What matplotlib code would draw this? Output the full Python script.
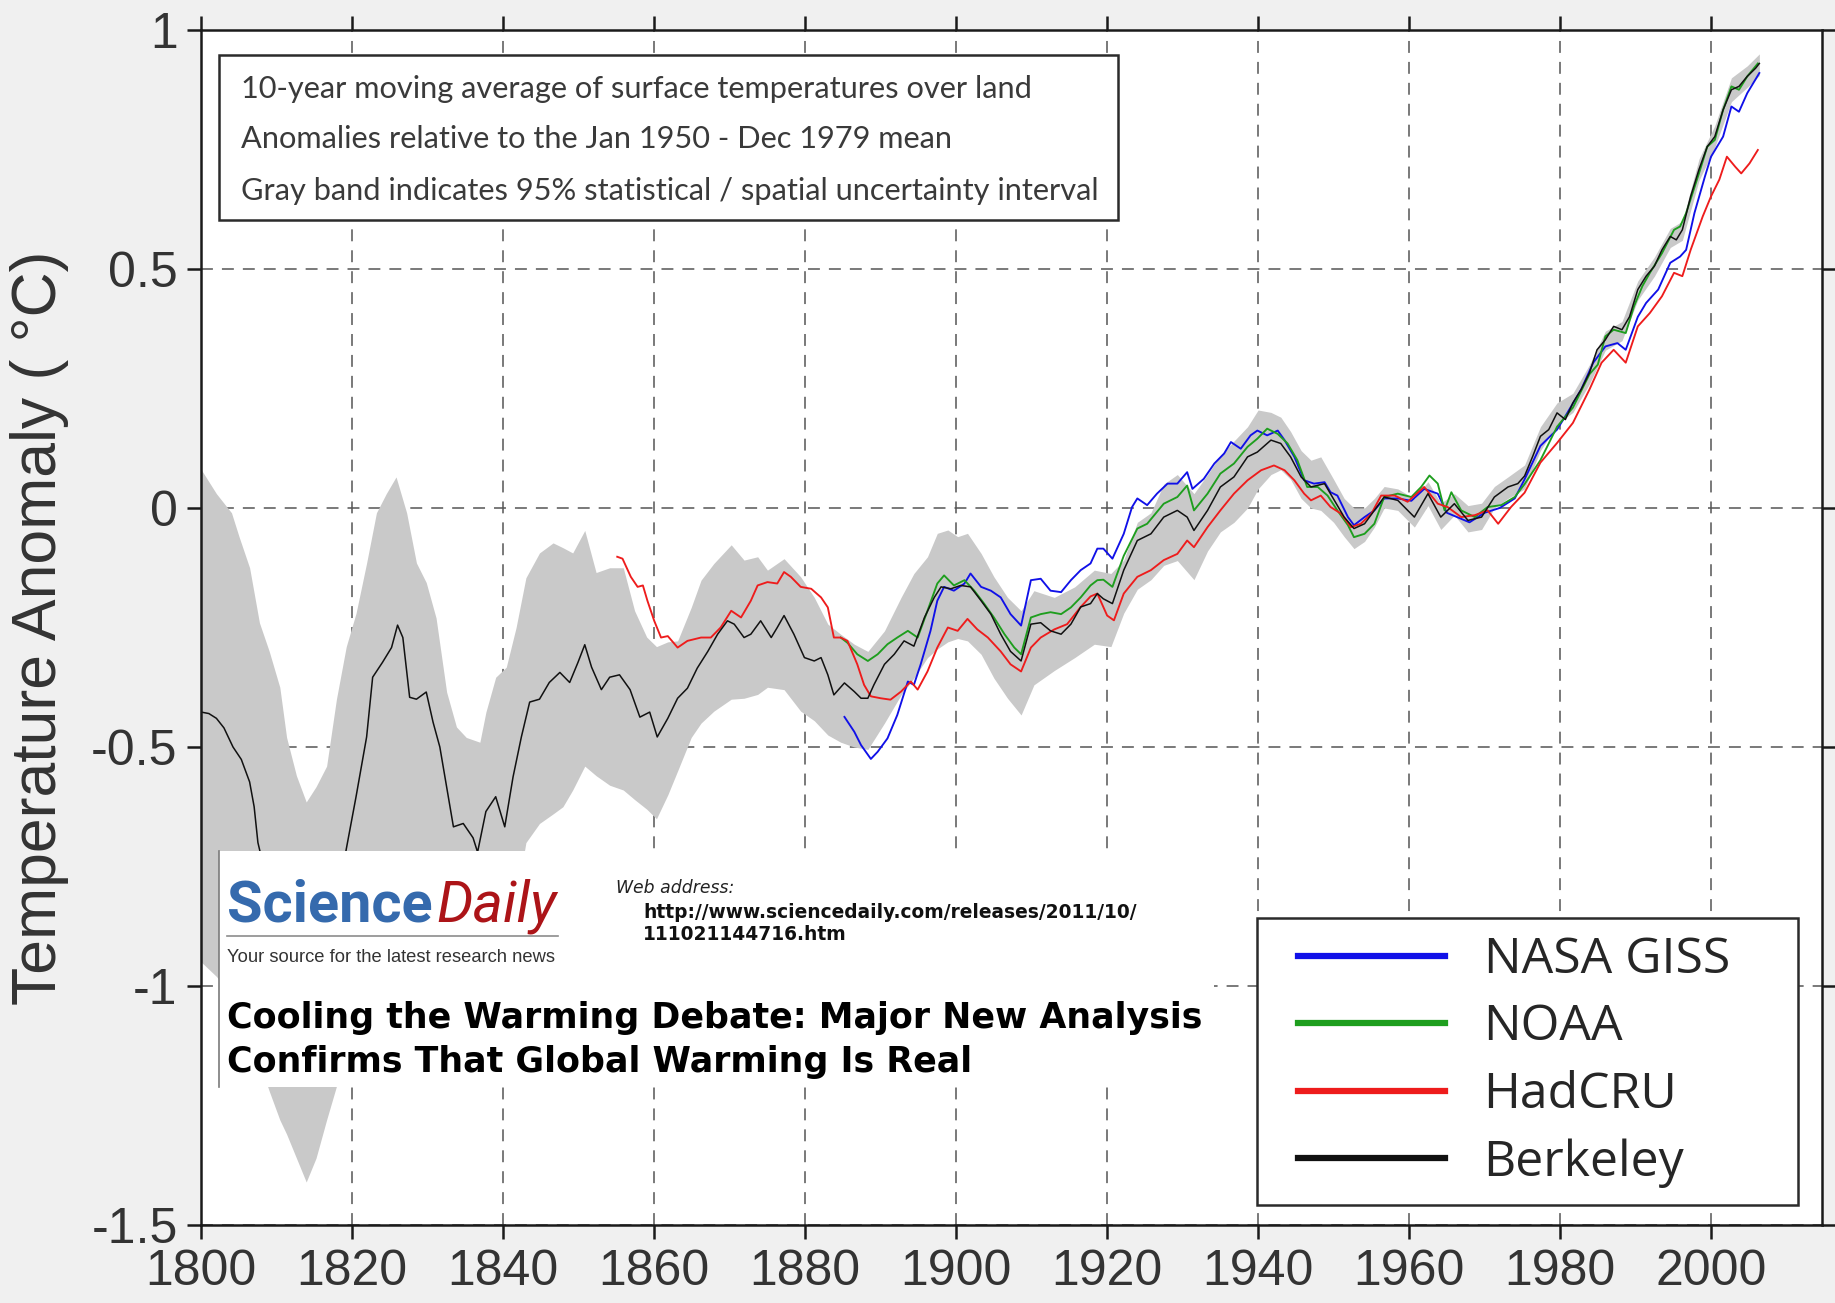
import matplotlib
matplotlib.use('Agg')
import matplotlib.pyplot as plt
from matplotlib.patches import Rectangle
from matplotlib.lines import Line2D
from matplotlib.legend_handler import HandlerLine2D
from matplotlib import font_manager as fm

plt.rcParams['axes.unicode_minus'] = False

# ---------------- data ----------------
berkeley_years = [1800, 1801, 1802, 1803, 1804.2, 1805.3, 1806.4, 1807, 1807.5, 1809, 1811, 1813, 1815, 1817,
                  1818.5, 1819.2, 1820.5, 1821.9, 1822.7, 1824, 1825.2, 1826, 1826.7, 1827.6, 1828.5, 1829.8,
                  1830.7, 1831.6, 1832.5, 1833.4, 1834.7, 1836, 1836.6, 1837.7, 1839, 1840.2, 1841.3, 1842.4,
                  1843.5, 1844.8, 1846.1, 1847.5, 1848.8, 1849.9, 1850.8, 1851.7, 1853, 1854.1, 1855.4, 1856.8,
                  1858.1, 1859.4, 1860.4, 1861.8, 1863.1, 1864.4, 1865.7, 1867.1, 1868.4, 1869.7, 1870.6,
                  1871.9, 1872.8, 1874.1, 1875.5, 1876.3, 1877.2, 1878.5, 1879.9, 1881.2, 1882.1, 1883, 1883.8,
                  1885.2, 1886.5, 1887.4, 1888.3, 1889.1, 1890.5, 1891.8, 1893.1, 1894.4, 1895.8, 1897.1, 1898,
                  1899.3, 1900.6, 1901.9, 1903.3, 1904.6, 1905.9, 1907.2, 1908.6, 1909.9, 1911.2, 1912.5,
                  1913.9, 1915.2, 1916.5, 1917.8, 1918.7, 1919.5, 1920.7, 1922.2, 1924, 1925.8, 1927.5, 1929.3,
                  1930.6, 1931.5, 1933.3, 1935, 1936.8, 1938.6, 1939.9, 1941.7, 1943, 1944.3, 1945.7, 1947,
                  1948.8, 1950.1, 1951.4, 1952.7, 1954.1, 1955.4, 1956.7, 1958.5, 1960.7, 1962.5, 1964.2, 1966,
                  1967.8, 1969.6, 1971.3, 1973.1, 1974.4, 1975.3, 1976.4, 1977.4, 1978.5, 1979.6, 1980.7,
                  1981.7, 1982.8, 1983.9, 1984.9, 1986, 1987.1, 1988.2, 1989.2, 1990.3, 1991.4, 1992.5, 1993.5,
                  1994.6, 1995.4, 1996.2, 1997.3, 1998.4, 1999.5, 2000.5, 2001.6, 2002.7, 2003.7, 2004.8,
                  2005.9, 2006.4]
berkeley_vals = [-0.427, -0.43, -0.44, -0.46, -0.50, -0.526, -0.573, -0.625, -0.70, -0.80, -0.90, -0.95, -0.92,
                 -0.85, -0.78, -0.714, -0.604, -0.479, -0.354, -0.323, -0.292, -0.245, -0.271, -0.396, -0.40,
                 -0.385, -0.448, -0.50, -0.583, -0.667, -0.66, -0.69, -0.72, -0.635, -0.604, -0.667, -0.5625,
                 -0.479, -0.406, -0.40, -0.365, -0.344, -0.365, -0.323, -0.286, -0.333, -0.38, -0.354, -0.349,
                 -0.38, -0.4375, -0.427, -0.479, -0.44, -0.398, -0.377, -0.335, -0.30, -0.264, -0.236, -0.243,
                 -0.271, -0.264, -0.236, -0.271, -0.25, -0.225, -0.264, -0.313, -0.32, -0.313, -0.349, -0.391,
                 -0.366, -0.384, -0.398, -0.398, -0.37, -0.327, -0.306, -0.278, -0.289, -0.229, -0.187, -0.165,
                 -0.169, -0.162, -0.165, -0.194, -0.222, -0.264, -0.30, -0.32, -0.243, -0.24, -0.257, -0.264,
                 -0.243, -0.207, -0.20, -0.179, -0.19, -0.20, -0.13, -0.068, -0.054, -0.019, -0.005, -0.019,
                 -0.047, -0.005, 0.044, 0.065, 0.107, 0.117, 0.142, 0.135, 0.107, 0.065, 0.044, 0.051, 0.016,
                 -0.019, -0.043, -0.033, -0.005, 0.023, 0.016, -0.019, 0.03, -0.019, 0.009, -0.026, -0.019,
                 0.023, 0.044, 0.051, 0.067, 0.109, 0.15, 0.164, 0.199, 0.185, 0.22, 0.248, 0.283, 0.331,
                 0.352, 0.38, 0.373, 0.40, 0.457, 0.485, 0.506, 0.54, 0.568, 0.561, 0.582, 0.652, 0.708,
                 0.756, 0.777, 0.833, 0.875, 0.882, 0.903, 0.92, 0.93]

noaa_years = [1884.7, 1885.6, 1886.9, 1888.3, 1889.6, 1890.9, 1892.2, 1893.6, 1894.9, 1896.2, 1897.5, 1898.4,
              1899.7, 1901.1, 1902.4, 1903.7, 1905, 1906.4, 1907.7, 1908.6, 1909.9, 1911.2, 1912.5, 1913.9,
              1915.2, 1916.5, 1917.8, 1918.7, 1919.5, 1920.7, 1922.2, 1924, 1925.3, 1927.5, 1929.3, 1930.6,
              1931.5, 1933.3, 1935, 1936.8, 1938.6, 1939.9, 1941.2, 1942.6, 1943.9, 1945.2, 1946.5, 1947.9,
              1949.2, 1950.5, 1951.9, 1952.7, 1954.1, 1955.4, 1956.7, 1958.5, 1960.3, 1961.6, 1962.7, 1963.8,
              1964.7, 1965.6, 1966.9, 1968.7, 1970.4, 1972.2, 1974, 1975.3, 1977.4, 1979.6, 1981.7, 1983.9,
              1985, 1986, 1987.1, 1988.7, 1989.8, 1990.9, 1991.9, 1993.5, 1995.1, 1995.9, 1996.7, 1998.4,
              1999.5, 2000.5, 2001.6, 2002.7, 2003.7, 2004.8, 2006.2]
noaa_vals = [-0.271, -0.282, -0.306, -0.32, -0.306, -0.285, -0.271, -0.257, -0.271, -0.215, -0.158, -0.141,
             -0.162, -0.151, -0.173, -0.20, -0.229, -0.264, -0.292, -0.306, -0.229, -0.222, -0.218, -0.222,
             -0.208, -0.187, -0.162, -0.151, -0.15, -0.165, -0.10, -0.043, -0.033, 0.009, 0.023, 0.047,
             -0.005, 0.03, 0.072, 0.093, 0.128, 0.145, 0.166, 0.155, 0.135, 0.10, 0.044, 0.044, 0.026,
             -0.005, -0.036, -0.061, -0.054, -0.033, 0.023, 0.03, 0.023, 0.044, 0.068, 0.051, -0.005, 0.033,
             -0.005, -0.019, 0.002, 0.006, 0.023, 0.05, 0.10, 0.17, 0.21, 0.28, 0.30, 0.359, 0.373, 0.366,
             0.422, 0.464, 0.492, 0.533, 0.582, 0.589, 0.617, 0.70, 0.756, 0.77, 0.833, 0.882, 0.875, 0.903,
             0.93]

nasa_years = [1885.2, 1886.5, 1887.4, 1888.7, 1889.6, 1890.9, 1892.2, 1893.6, 1894.4, 1895.3, 1896.6, 1897.5,
              1898.4, 1899.7, 1901.1, 1901.9, 1903.3, 1904.6, 1905.9, 1907.2, 1908.6, 1909.9, 1911.2, 1912.5,
              1913.9, 1915.2, 1916.5, 1917.8, 1918.7, 1919.5, 1920.7, 1922.2, 1923.3, 1924, 1925.3, 1926.6,
              1928, 1929.3, 1930.6, 1931.3, 1932.8, 1934.2, 1935.5, 1936.4, 1937.7, 1939, 1939.9, 1941.2,
              1942.6, 1943.5, 1944.8, 1946.1, 1947.4, 1948.8, 1949.6, 1950.5, 1951.9, 1952.7, 1954.1, 1955.4,
              1956.7, 1958.5, 1960.3, 1962, 1963.8, 1965, 1966.5, 1968, 1970, 1972, 1974, 1975.3, 1977.4,
              1979.6, 1980.7, 1982.8, 1984.4, 1986, 1987.6, 1988.7, 1990.3, 1991.4, 1993, 1994.6, 1995.9,
              1996.7, 1997.8, 1999.2, 2000, 2001.6, 2002.7, 2003.7, 2004.8, 2006.4]
nasa_vals = [-0.437, -0.468, -0.496, -0.525, -0.51, -0.482, -0.433, -0.363, -0.37, -0.327, -0.257, -0.194,
             -0.165, -0.173, -0.158, -0.137, -0.165, -0.173, -0.187, -0.222, -0.246, -0.151, -0.148, -0.173,
             -0.176, -0.151, -0.13, -0.116, -0.085, -0.085, -0.106, -0.054, 0.002, 0.02, 0.006, 0.03, 0.051,
             0.051, 0.075, 0.04, 0.061, 0.093, 0.114, 0.138, 0.124, 0.152, 0.162, 0.152, 0.162, 0.142, 0.107,
             0.058, 0.051, 0.054, 0.033, 0.026, -0.019, -0.036, -0.019, -0.005, 0.02, 0.02, 0.015, 0.04,
             0.03, -0.01, -0.02, -0.03, -0.01, 0.0, 0.02, 0.06, 0.13, 0.164, 0.192, 0.248, 0.304, 0.338,
             0.345, 0.331, 0.40, 0.429, 0.457, 0.513, 0.526, 0.54, 0.617, 0.694, 0.735, 0.777, 0.84, 0.829,
             0.868, 0.91]

hadcru_years = [1855.1, 1855.8, 1856.9, 1857.8, 1858.5, 1859.1, 1860, 1860.9, 1861.8, 1863.1, 1864.4, 1866.2,
                1867.5, 1868.8, 1870.2, 1871.5, 1872.8, 1873.7, 1875, 1876.3, 1877.2, 1878.1, 1879.4, 1880.8,
                1882.1, 1883, 1883.8, 1884.7, 1885.6, 1886.9, 1887.8, 1888.7, 1890, 1891.3, 1892.7, 1894,
                1894.9, 1896.2, 1897.5, 1898.9, 1900.2, 1901.5, 1902.8, 1904.2, 1905.9, 1907.2, 1908.6, 1909.9,
                1911.2, 1913, 1914.7, 1916.5, 1917.8, 1918.7, 1920, 1920.9, 1922.2, 1924, 1925.8, 1927.5,
                1929.3, 1930.6, 1931.5, 1933.3, 1935, 1936.8, 1938.6, 1940.4, 1942.1, 1943.5, 1944.8, 1946.1,
                1947, 1948.3, 1949.6, 1951, 1952.3, 1953.6, 1955, 1956.3, 1958.1, 1959.8, 1962, 1963.8, 1965.1,
                1966.9, 1968.7, 1970.4, 1971.8, 1973.5, 1975.3, 1977.4, 1979.6, 1981.7, 1983.9, 1985.5,
                1987.1, 1988.7, 1990.3, 1991.9, 1993.5, 1995.1, 1996.2, 1997.3, 1998.9, 2000, 2001.1, 2002.1,
                2003.2, 2004, 2005.1, 2006.2]
hadcru_vals = [-0.102, -0.106, -0.144, -0.165, -0.162, -0.194, -0.236, -0.271, -0.268, -0.292, -0.278, -0.271,
               -0.271, -0.25, -0.215, -0.229, -0.194, -0.162, -0.155, -0.158, -0.134, -0.144, -0.165, -0.169,
               -0.187, -0.208, -0.271, -0.271, -0.278, -0.327, -0.37, -0.394, -0.398, -0.401, -0.384, -0.363,
               -0.38, -0.342, -0.292, -0.25, -0.257, -0.232, -0.254, -0.271, -0.30, -0.327, -0.342, -0.292,
               -0.271, -0.254, -0.243, -0.207, -0.185, -0.179, -0.225, -0.235, -0.179, -0.144, -0.13, -0.109,
               -0.096, -0.068, -0.082, -0.04, -0.005, 0.03, 0.058, 0.079, 0.089, 0.079, 0.058, 0.03, 0.016,
               0.026, 0.002, -0.012, -0.04, -0.033, -0.012, 0.026, 0.026, 0.013, 0.044, 0.009, 0.002, -0.019,
               -0.015, -0.005, -0.033, 0.002, 0.032, 0.095, 0.136, 0.178, 0.248, 0.304, 0.331, 0.304, 0.38,
               0.408, 0.443, 0.492, 0.485, 0.54, 0.61, 0.652, 0.687, 0.735, 0.714, 0.70, 0.721, 0.749]

band_years = [1800, 1802, 1804, 1805, 1806.4, 1807.7, 1809, 1810.4, 1811.3, 1812.6, 1813.9, 1815.2, 1816.6,
              1817.9, 1819.2, 1820.5, 1821.9, 1823.2, 1824.5, 1825.8, 1827.2, 1828.5, 1829.8, 1831.1, 1832.5,
              1833.8, 1835.1, 1836.9, 1837.7, 1839, 1840.4, 1841.7, 1843, 1844.8, 1846.6, 1847.9, 1849.2,
              1850.8, 1852.3, 1854.1, 1855.9, 1857.4, 1859, 1860.3, 1861.8, 1863.1, 1864.9, 1866.2, 1867.9,
              1870.2, 1871.9, 1873.7, 1875, 1877.2, 1879.4, 1881.2, 1883, 1884.7, 1886.5, 1888.3, 1890.5,
              1892.7, 1894.4, 1896.2, 1897.5, 1898.9, 1900.2, 1901.5, 1903.3, 1905, 1906.8, 1908.6, 1910.3,
              1913, 1915.7, 1918.3, 1920.5, 1922.2, 1924, 1925.8, 1927.5, 1929.3, 1931.5, 1933.3, 1935,
              1936.8, 1938.6, 1940, 1941.7, 1943, 1944.3, 1945.7, 1947, 1948.3, 1950, 1951.4, 1952.7, 1954.1,
              1955.4, 1956.7, 1958.5, 1960.7, 1962.5, 1964.2, 1966, 1967.8, 1969.6, 1971.3, 1973.1, 1975.3,
              1977.4, 1979.6, 1981.7, 1983.9, 1986, 1988.2, 1990.3, 1992.5, 1994.6, 1996.2, 1998.4, 2000.5,
              2002.7, 2004.8, 2006.4]
band_high = [0.08, 0.03, -0.01, -0.06, -0.125, -0.24, -0.30, -0.375, -0.48, -0.56, -0.615, -0.583, -0.54,
             -0.40, -0.29, -0.22, -0.115, -0.01, 0.03, 0.065, -0.01, -0.115, -0.156, -0.23, -0.385, -0.458,
             -0.48, -0.49, -0.427, -0.354, -0.333, -0.25, -0.146, -0.094, -0.073, -0.083, -0.094, -0.047,
             -0.135, -0.125, -0.125, -0.215, -0.27, -0.29, -0.28, -0.278, -0.208, -0.151, -0.116, -0.077,
             -0.109, -0.102, -0.13, -0.106, -0.144, -0.187, -0.243, -0.264, -0.285, -0.30, -0.257, -0.187,
             -0.137, -0.102, -0.053, -0.046, -0.06, -0.053, -0.095, -0.144, -0.187, -0.215, -0.173, -0.187,
             -0.165, -0.13, -0.137, -0.109, -0.03, -0.01, 0.05, 0.07, 0.03, 0.07, 0.11, 0.14, 0.17, 0.205,
             0.20, 0.19, 0.16, 0.12, 0.10, 0.107, 0.06, 0.02, 0.0, 0.0, 0.02, 0.045, 0.04, 0.02, 0.055, 0.01,
             0.03, 0.005, 0.01, 0.045, 0.065, 0.09, 0.17, 0.22, 0.24, 0.30, 0.37, 0.39, 0.475, 0.525, 0.585,
             0.60, 0.73, 0.80, 0.90, 0.925, 0.95]
band_low = [-0.95, -0.98, -1.02, -1.06, -1.10, -1.16, -1.22, -1.28, -1.31, -1.36, -1.41, -1.36, -1.28, -1.21,
            -1.12, -1.02, -0.92, -0.84, -0.78, -0.75, -0.76, -0.80, -0.82, -0.86, -0.95, -1.0, -1.02, -1.0,
            -0.95, -0.90, -0.90, -0.82, -0.70, -0.66, -0.64, -0.625, -0.59, -0.54, -0.56, -0.58, -0.59,
            -0.61, -0.63, -0.65, -0.60, -0.55, -0.48, -0.45, -0.425, -0.40, -0.398, -0.39, -0.375, -0.38,
            -0.425, -0.445, -0.475, -0.49, -0.50, -0.505, -0.45, -0.391, -0.356, -0.313, -0.295, -0.28,
            -0.273, -0.278, -0.306, -0.356, -0.398, -0.433, -0.37, -0.34, -0.313, -0.285, -0.29, -0.22,
            -0.17, -0.15, -0.12, -0.11, -0.15, -0.09, -0.05, -0.03, 0.0, 0.04, 0.07, 0.08, 0.06, 0.02, 0.0,
            -0.005, -0.03, -0.06, -0.085, -0.07, -0.04, 0.0, -0.005, -0.04, 0.005, -0.045, -0.015, -0.05,
            -0.045, 0.0, 0.02, 0.04, 0.12, 0.175, 0.2, 0.26, 0.33, 0.35, 0.435, 0.485, 0.545, 0.56, 0.685,
            0.755, 0.85, 0.88, 0.905]

series_names = ['NASA GISS', 'NOAA', 'HadCRU', 'Berkeley']
series_colors = ['#1010e8', '#1e9e1e', '#ee1c1c', '#111111']

x_ticks = [1800, 1820, 1840, 1860, 1880, 1900, 1920, 1940, 1960, 1980, 2000]
y_ticks = [-1.5, -1, -0.5, 0, 0.5, 1]
y_tick_labels = ['-1.5', '-1', '-0.5', '0', '0.5', '1']

info_lines = ['10-year moving average of surface temperatures over land',
              'Anomalies relative to the Jan 1950 - Dec 1979 mean',
              'Gray band indicates 95% statistical / spatial uncertainty interval']

# ---------------- figure ----------------
W, H = 1835, 1303
fig = plt.figure(figsize=(W / 100, H / 100), dpi=100, facecolor='#f0f0f0')


def px(x, y):
    return (x / W, 1 - y / H)


def has_font(name):
    try:
        fm.findfont(fm.FontProperties(family=name), fallback_to_default=False)
        return True
    except Exception:
        return False


narrow = 'Liberation Sans Narrow' if has_font('Liberation Sans Narrow') else 'Roboto'

ax_l, ax_r, ax_t, ax_b = 201.3, 1822, 30, 1225
ax = fig.add_axes([ax_l / W, 1 - ax_b / H, (ax_r - ax_l) / W, (ax_b - ax_t) / H])
ax.set_facecolor('white')

ax.fill_between(band_years, band_low, band_high, color='#c9c9c9', lw=0, zorder=1)
all_years = [nasa_years, noaa_years, hadcru_years, berkeley_years]
all_vals = [nasa_vals, noaa_vals, hadcru_vals, berkeley_vals]
for yrs, vals, c, nm in zip(all_years, all_vals, series_colors, series_names):
    ax.plot(yrs, vals, color=c, lw=1.35 if nm != 'Berkeley' else 1.1, zorder=2, label=nm)

ax.set_xlim(1800, 2014.7)
ax.set_ylim(-1.5, 1)
ax.set_xticks(x_ticks)
ax.set_xticklabels([str(v) for v in x_ticks])
ax.set_yticks(y_ticks)
ax.set_yticklabels(y_tick_labels)

ax.grid(True, color='#555555', linestyle=(0, (7.8, 5.9)), linewidth=1.1)
ax.set_axisbelow(True)

for sp in ax.spines.values():
    sp.set_linewidth(1.8)
    sp.set_color('#1a1a1a')

ax.tick_params(direction='out', length=10, width=1.8, top=True, right=True, colors='#1a1a1a',
               labelcolor='#333333', labelsize=36)
ax.tick_params(axis='x', pad=7)
ax.tick_params(axis='y', pad=7)
for lab in ax.get_xticklabels() + ax.get_yticklabels():
    lab.set_family('Liberation Sans')

ax.set_ylabel('Temperature Anomaly ( °C)', fontsize=45, family='Liberation Sans', color='#333333',
              va='center')
ax.yaxis.set_label_coords((40 - ax_l) / (ax_r - ax_l), 0.5)

# legend
handles = [Line2D([], [], color=c, lw=4.5) for c in series_colors]
aw, ah = ax_r - ax_l, ax_b - ax_t
leg = ax.legend(handles, series_names, loc='lower left',
                bbox_to_anchor=((1257 - ax_l) / aw, (ax_b - 1205) / ah, (1798 - 1257) / aw, 0.2),
                mode='expand', borderaxespad=0, borderpad=0.35, labelspacing=0.36,
                handlelength=3.4, handletextpad=0.78, fancybox=False, framealpha=1,
                prop=fm.FontProperties(family='Open Sans', size=36),
                handler_map={Line2D: HandlerLine2D(xpad=0.46, ypad=0.05)})
leg.get_frame().set_edgecolor('#2b2b2b')
leg.get_frame().set_linewidth(1.8)
for t in leg.get_texts():
    t.set_color('#262626')

renderer = fig.canvas.get_renderer()


def fit_text(x, y, s, width, base=20, **kw):
    t = fig.text(*px(x, y), s, fontsize=base, **kw)
    bb = t.get_window_extent(renderer)
    t.set_fontsize(base * width / bb.width)
    return t


# info box (top left)
fig.add_artist(Rectangle(px(219, 220), (1118 - 219) / W, (220 - 55) / H, transform=fig.transFigure,
                         facecolor='white', edgecolor='#2b2b2b', lw=1.8, zorder=5))
t3 = fit_text(241, 200, info_lines[2], 859, family='Lato', color='#3a3a3a', va='baseline', zorder=6)
size_info = t3.get_fontsize()
for s, yb in zip(info_lines[:2], [98, 148.5]):
    fig.text(*px(241, yb), s, fontsize=size_info, family='Lato', color='#3a3a3a', va='baseline', zorder=6)

# ScienceDaily overlay
fig.add_artist(Rectangle(px(219, 1087), (1214 - 219) / W, (1087 - 851) / H, transform=fig.transFigure,
                         facecolor='white', edgecolor='none', zorder=10))
fig.add_artist(Line2D([219 / W, 219 / W], [1 - 851 / H, 1 - 1087 / H], transform=fig.transFigure,
                      color='#7a7a7a', lw=1.2, zorder=11))
fit_text(227, 922, 'Science', 206, family=narrow, weight='bold', color='#356aad', va='baseline', zorder=11)
fit_text(436, 922, 'Daily', 120, family=narrow, style='italic', color='#ac1418', va='baseline', zorder=11)
fig.add_artist(Line2D([227 / W, 558 / W], [1 - 936 / H, 1 - 936 / H], transform=fig.transFigure,
                      color='#8c8c8c', lw=1.2, zorder=11))
fit_text(227, 962, 'Your source for the latest research news', 328, family='Liberation Sans',
         color='#333333', va='baseline', zorder=11)
fit_text(616, 893, 'Web address:', 118, family='DejaVu Sans', style='italic',
         color='#222222', va='baseline', zorder=11)
u1 = fit_text(643, 918, 'http://www.sciencedaily.com/releases/2011/10/', 493, family='DejaVu Sans',
              weight='bold', color='#111111', va='baseline', zorder=11)
fig.text(*px(643, 940), '111021144716.htm', fontsize=u1.get_fontsize(), family='DejaVu Sans',
         weight='bold', color='#111111', va='baseline', zorder=11)
h1 = fit_text(227, 1028, 'Cooling the Warming Debate: Major New Analysis', 977, family='DejaVu Sans',
              weight='bold', color='black', va='baseline', zorder=11)
fig.text(*px(227, 1072), 'Confirms That Global Warming Is Real', fontsize=h1.get_fontsize(),
         family='DejaVu Sans', weight='bold', color='black', va='baseline', zorder=11)

fig.savefig('out.png', dpi=100, facecolor=fig.get_facecolor())
